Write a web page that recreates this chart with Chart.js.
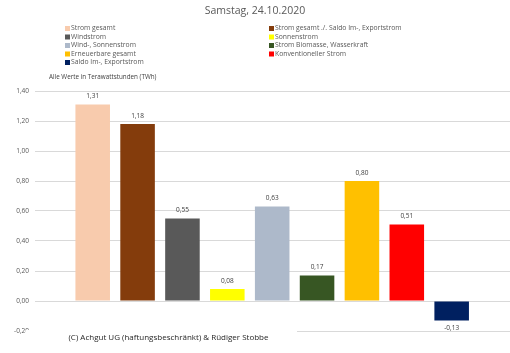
<!DOCTYPE html>
<html><head><meta charset="utf-8">
<script src="https://cdn.jsdelivr.net/npm/chart.js@4/dist/chart.umd.min.js"></script>
<style>html,body{margin:0;padding:0;background:#fff;}canvas{display:block;}</style>
</head><body>
<canvas id="c" width="510" height="353"></canvas>
<script>
const titleText = 'Samstag, 24.10.2020';
const categories = ['Strom gesamt','Strom gesamt ./. Saldo Im-, Exportstrom','Windstrom','Sonnenstrom','Wind-, Sonnenstrom','Strom Biomasse, Wasserkraft','Erneuerbare gesamt','Konventioneller Strom','Saldo Im-, Exportstrom'];
const values = [1.31, 1.18, 0.55, 0.08, 0.63, 0.17, 0.80, 0.51, -0.13];
const colors = ['#F8CBAD','#843C0C','#595959','#FFFF00','#ADB9CA','#375623','#FFC000','#FF0000','#002060'];
const yTicks = [-0.2, 0, 0.2, 0.4, 0.6, 0.8, 1.0, 1.2, 1.4];
const unitNote = 'Alle Werte in Terawattstunden (TWh)';
const footerText = '(C) Achgut UG (haftungsbeschränkt) & Rüdiger Stobbe';

const fmt = v => v.toFixed(2).replace('.', ',');
const FONT = '"Open Sans", sans-serif';

const decor = {
  id: 'decor',
  afterDraw(chart) {
    const ctx = chart.ctx;
    ctx.save();
    // title
    ctx.fillStyle = '#595959';
    ctx.font = '10.5px ' + FONT;
    ctx.textAlign = 'center';
    ctx.textBaseline = 'middle';
    ctx.fillText(titleText, 255, 11);
    // legend (2 columns)
    ctx.font = '6.8px ' + FONT;
    ctx.textAlign = 'left';
    categories.forEach((c, i) => {
      const col = i % 2, row = Math.floor(i / 2);
      const x = col === 0 ? 65 : 269;
      const y = 28.5 + row * 8.5;
      ctx.fillStyle = colors[i];
      ctx.fillRect(x, y - 2.5, 5, 5);
      ctx.fillStyle = '#595959';
      ctx.fillText(c, x + 6, y);
    });
    // unit note
    ctx.fillStyle = '#404040';
    ctx.font = '6.3px ' + FONT;
    ctx.fillText(unitNote, 49, 77.5);
    // footer box (covers part of the lowest tick label and gridline)
    ctx.fillStyle = '#fff';
    ctx.fillRect(25.5, 330, 271.5, 23);
    ctx.fillRect(31, 325, 266, 28);
    ctx.fillStyle = '#262626';
    ctx.font = '8px ' + FONT;
    ctx.textAlign = 'center';
    ctx.fillText(footerText, 168.5, 338);
    ctx.restore();
  },
  afterDatasetsDraw(chart) {
    const ctx = chart.ctx;
    const meta = chart.getDatasetMeta(0);
    ctx.save();
    ctx.fillStyle = '#404040';
    ctx.font = '6.5px ' + FONT;
    ctx.textAlign = 'center';
    ctx.textBaseline = 'middle';
    meta.data.forEach((bar, i) => {
      const v = values[i];
      const y = v >= 0 ? bar.y - 8 : bar.y + 8;
      ctx.fillText(fmt(v), bar.x, y);
    });
    ctx.restore();
  }
};

new Chart(document.getElementById('c'), {
  type: 'bar',
  data: {
    datasets: [{
      data: values.map((v, i) => ({x: i, y: v})),
      backgroundColor: colors,
      borderWidth: 0,
      barPercentage: 0.77,
      categoryPercentage: 1
    }]
  },
  options: {
    responsive: false,
    animation: false,
    devicePixelRatio: 1,
    layout: {padding: {top: 91, bottom: 22, left: 0, right: 0}},
    plugins: {legend: {display: false}, tooltip: {enabled: false}, title: {display: false}},
    scales: {
      x: {
        type: 'linear',
        min: -1.286, max: 9.3,
        display: false,
        offset: false
      },
      y: {
        min: -0.2, max: 1.4,
        afterFit(s) { s.width = 35; },
        afterBuildTicks(s) { s.ticks = yTicks.map(v => ({value: v})); },
        border: {display: false},
        grid: {color: '#D9D9D9', lineWidth: 1, drawTicks: false},
        ticks: {
          padding: 6,
          color: '#595959',
          font: {family: FONT, size: 6.5},
          callback: v => fmt(v)
        }
      }
    }
  },
  plugins: [decor]
});
</script>
</body></html>
